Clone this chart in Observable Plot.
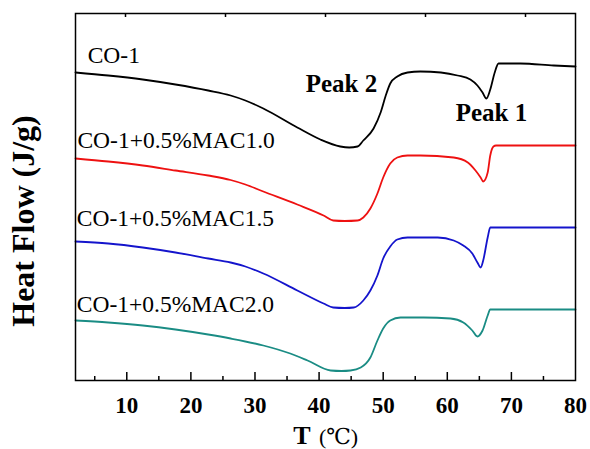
<!DOCTYPE html>
<html><head><meta charset="utf-8">
<script src="https://cdn.jsdelivr.net/npm/d3@7"></script>
<script src="https://cdn.jsdelivr.net/npm/@observablehq/plot@0.6"></script>
<style>body{margin:0;background:#fff}</style>
</head><body><div id="chart"></div>
<script>
// DSC curves: [T (°C), heat flow (arbitrary offset units)]
const co1 = [[2,308],[7.1,305],[12.5,301],[17.6,296],[22.7,290],[26.2,285],[28.5,280],[31.3,272],[36.6,253],[40.2,241],[43.3,234],[44.7,233],[46.0,234],[46.9,240],[48.5,252],[49.6,268],[50.4,285],[51.1,297],[52.2,304],[53.8,308],[55.8,309],[59.0,308],[61.6,305],[63.6,301],[64.7,295],[65.5,288],[66.1,282],[66.7,291],[67.4,308],[68.0,317],[71.4,317],[76.6,315],[80,314]];
const mac10 = [[2,222],[7.1,219],[12.5,215],[17.6,210],[22.7,205],[26.2,200.5],[28.5,196],[31.3,189],[36.6,176],[40.7,165],[42.2,160],[44.0,159.5],[46.0,160],[46.9,163],[48.0,172],[49.1,187],[50.0,203],[51.1,217],[52.2,223],[53.8,225],[55.8,225],[61.0,223],[63.2,218],[64.4,210],[65.2,203],[65.6,199],[66.3,208],[66.7,225],[67.2,234],[67.6,235],[80,235]];
const mac15 = [[2,139],[7.1,137],[12.5,133],[17.6,128],[22.7,122],[26.2,118],[28.5,114],[31.3,107],[36.6,90],[40.7,77],[42.2,73],[44.0,72.5],[45.4,73],[46.9,80],[48.0,90],[49.1,105],[50.0,122],[51.1,134],[52.2,141],[53.8,143],[58.5,143],[61.0,140],[62.5,135],[63.9,127],[64.7,118],[65.2,113],[65.6,120],[66.3,143],[66.7,153],[80,153]];
const mac20 = [[2,60],[7.1,58],[12.5,55],[17.6,51],[22.7,46],[26.2,42],[31.3,35],[35.5,27],[38.2,20],[41.8,10],[43.5,9.5],[44.9,10],[46.5,13],[48.0,23],[49.1,40],[50.0,52],[51.1,60],[52.7,63],[56.3,63],[60.5,62],[62.5,58],[63.9,50],[64.7,44],[65.5,50],[66.3,65],[66.7,71],[80,71]];

const seriesNames = ["CO-1", "CO-1+0.5%MAC1.0", "CO-1+0.5%MAC1.5", "CO-1+0.5%MAC2.0"];
const seriesColors = ["#000000", "#ee1111", "#1414cc", "#1a8c84"];
const labelT = [3.9, 2.3, 2.2, 2.2];
const labelV = [325, 240, 162, 76];

const peakNames = ["Peak 2", "Peak 1"];
const peakT = [37.9, 61.3];
const peakV = [297, 268];

const majorTicks = [10, 20, 30, 40, 50, 60, 70];
const minorTicks = [5, 15, 25, 35, 45, 55, 65, 75];
const tickLabels = [10, 20, 30, 40, 50, 60, 70, 80];
const topTicks = [9.8, 25.4, 41.0, 56.6, 72.2];

const allSeries = [co1, mac10, mac15, mac20];
const rows = [];
allSeries.forEach((s, i) => s.forEach(([t, v]) => rows.push({series: seriesNames[i], t, v})));
const labels = seriesNames.map((n, i) => ({n, t: labelT[i], v: labelV[i]}));
const peaks = peakNames.map((n, i) => ({n, t: peakT[i], v: peakV[i]}));

const serif = "'Liberation Serif', 'Times New Roman', 'DejaVu Serif', serif";
const W = 590, H = 449, mT = 13, mB = 69;
const frameH = H - mT - mB;

const plot = Plot.plot({
  width: W, height: H,
  marginLeft: 75, marginRight: 15, marginTop: mT, marginBottom: mB,
  x: {domain: [2, 80]},
  y: {domain: [0, 367], axis: null},
  color: {domain: seriesNames, range: seriesColors},
  style: {fontFamily: serif, background: "#fff", color: "#000"},
  marks: [
    Plot.line(rows, {x: "t", y: "v", z: "series", stroke: "series", strokeWidth: 1.8, curve: "monotone-x"}),
    Plot.frame({stroke: "#000", strokeWidth: 1.5}),
    Plot.ruleX(majorTicks, {x: d => d, insetTop: frameH - 8, stroke: "#000", strokeWidth: 1.5}),
    Plot.ruleX(minorTicks, {x: d => d, insetTop: frameH - 4, stroke: "#000", strokeWidth: 1.5}),
    Plot.ruleX(topTicks, {x: d => d, insetBottom: frameH - 4, stroke: "#000", strokeWidth: 1.5}),
    Plot.axisX(tickLabels, {anchor: "bottom", tickSize: 0, tickPadding: 16, fontSize: 23, fontWeight: "bold", fill: "#000", label: null}),
    Plot.text(labels, {x: "t", y: "v", text: "n", textAnchor: "start", lineAnchor: "middle", fontSize: 23.5, fill: "#000"}),
    Plot.text(peaks, {x: "t", y: "v", text: "n", textAnchor: "start", lineAnchor: "middle", fontSize: 25, fontWeight: "bold", fill: "#000"}),
    Plot.text(["Heat Flow (J/g)"], {frameAnchor: "left", textAnchor: "middle", lineAnchor: "middle", rotate: -90, dx: -52, dy: 24, fontSize: 32, fontWeight: "bold", fill: "#000"}),
    Plot.text(["T"], {frameAnchor: "bottom", textAnchor: "middle", lineAnchor: "bottom", dx: -23.5, dy: 63, fontSize: 26, fontWeight: "bold", fill: "#000"}),
    Plot.text(["(℃)"], {frameAnchor: "bottom", textAnchor: "middle", lineAnchor: "bottom", dx: 13, dy: 63, fontSize: 22, fill: "#000"})
  ]
});
document.getElementById("chart").appendChild(plot);
</script>
</body></html>
